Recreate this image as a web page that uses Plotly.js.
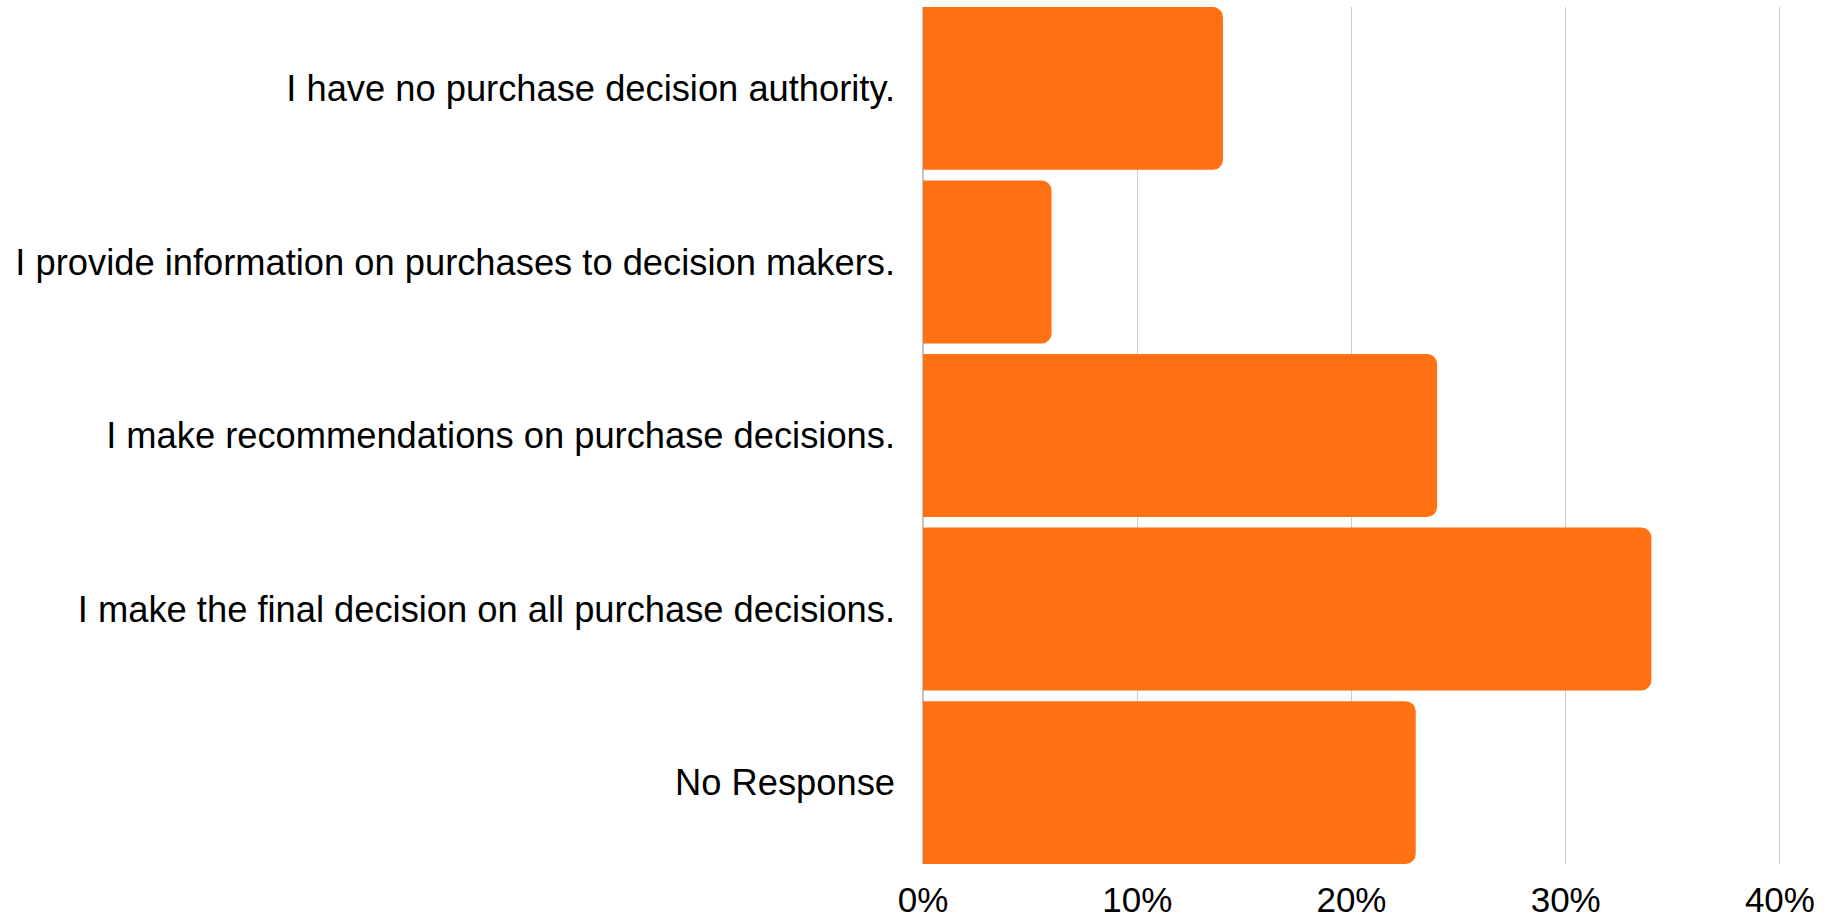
<!DOCTYPE html>
<html>
<head>
<meta charset="utf-8">
<script src="https://cdn.plot.ly/plotly-3.0.1.min.js"></script>
<style>
  html, body { margin: 0; padding: 0; background: #ffffff; }
  #chart { width: 1837px; height: 920px; }
</style>
</head>
<body>
<div id="chart"></div>
<script>
const categories = [
  "I have no purchase decision authority.",
  "I provide information on purchases to decision makers.",
  "I make recommendations on purchase decisions.",
  "I make the final decision on all purchase decisions.",
  "No Response"
];
const percentValues = [14, 6, 24, 34, 23];
const xTickValues = [0, 10, 20, 30, 40];
const xTickLabels = ["0%", "10%", "20%", "30%", "40%"];

const barGap = 0.0616;
const half = (1 - barGap) / 2;

const trace = {
  type: "bar",
  orientation: "h",
  x: percentValues,
  y: categories,
  marker: { color: "#ff7113", cornerradius: 10 },
  hoverinfo: "x+y"
};

const layout = {
  width: 1837,
  height: 920,
  margin: { l: 923, r: 56, t: 7, b: 56, pad: 0 },
  paper_bgcolor: "#ffffff",
  plot_bgcolor: "#ffffff",
  bargap: barGap,
  showlegend: false,
  font: { family: "Liberation Sans, Arial, sans-serif", color: "#000000", size: 36 },
  xaxis: {
    range: [0, 40.05],
    tickvals: xTickValues,
    ticktext: xTickLabels,
    showgrid: true,
    gridcolor: "#cccccc",
    gridwidth: 1,
    zeroline: true,
    zerolinecolor: "#c4c4c4",
    zerolinewidth: 1.5,
    showline: false,
    ticks: "",
    tickfont: { size: 35, color: "#000000" },
    ticklabelstandoff: 12,
    fixedrange: true
  },
  yaxis: {
    type: "category",
    range: [categories.length - 1 + half, -half],
    showgrid: false,
    zeroline: false,
    showline: false,
    ticks: "",
    tickfont: { size: 36.3, color: "#000000" },
    ticklabelstandoff: 27,
    fixedrange: true
  }
};

Plotly.newPlot("chart", [trace], layout, { displayModeBar: false, staticPlot: true });
</script>
</body>
</html>
